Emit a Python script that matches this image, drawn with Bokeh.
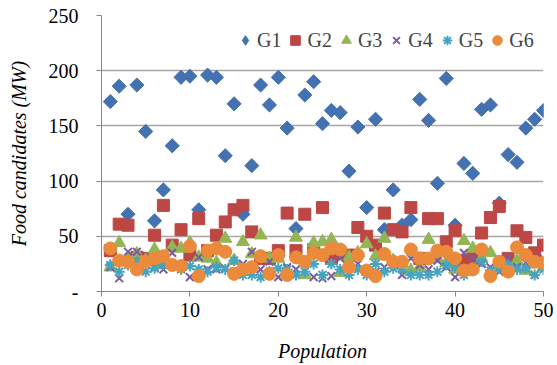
import math
from bokeh.plotting import figure
from bokeh.models import Legend, FixedTicker
from bokeh.embed import file_html
from bokeh.resources import INLINE

population = list(range(1, 51))
g1 = [172, 186, 70, 187, 145, 64, 92, 132, 194, 195, 74, 196, 194, 123, 170, 70, 114, 187, 169, 194,
      148, 57, 178, 190, 152, 164, 162, 109, 149, 76, 156, 56, 92, 60, 65, 174, 155, 98, 193, 60,
      116, 107, 165, 169, 80, 124, 117, 148, 156, 164]
g2 = [37, 61, 60, 31, 30, 51, 78, 42, 56, 33, 66, 37, 51, 63, 74, 78, 54, 30, 30, 37,
      71, 37, 70, 38, 76, 30, 35, 33, 58, 50, 42, 71, 56, 54, 76, 30, 66, 66, 45, 55,
      28, 30, 53, 67, 77, 30, 55, 49, 35, 42]
g3 = [22, 44, 30, 34, 28, 38, 25, 40, 39, 44, 31, 30, 26, 48, 28, 45, 34, 51, 30, 30,
      16, 49, 15, 44, 45, 47, 17, 31, 35, 43, 32, 48, 28, 25, 19, 22, 47, 30, 26, 20,
      46, 39, 30, 35, 25, 22, 28, 19, 25, 22]
g4 = [22, 12, 36, 36, 25, 22, 20, 35, 22, 13, 31, 20, 20, 21, 18, 25, 36, 20, 27, 13,
      22, 20, 25, 13, 12, 14, 30, 22, 25, 20, 18, 22, 26, 15, 30, 24, 20, 28, 22, 13,
      35, 30, 25, 22, 18, 30, 22, 26, 15, 30]
g5 = [24, 18, 24, 27, 18, 21, 24, 24, 20, 23, 20, 18, 22, 20, 28, 15, 15, 13, 18, 21,
      20, 15, 18, 25, 15, 25, 20, 15, 20, 15, 25, 18, 21, 20, 15, 15, 15, 18, 24, 22,
      15, 21, 27, 19, 21, 24, 20, 21, 15, 20]
g6 = [39, 28, 27, 20, 27, 30, 32, 24, 23, 41, 14, 37, 39, 36, 16, 20, 22, 32, 16, 33,
      15, 31, 27, 35, 33, 39, 38, 22, 33, 19, 14, 34, 27, 27, 38, 30, 30, 37, 36, 30,
      19, 20, 38, 14, 27, 18, 40, 33, 27, 26]

series_names = ["G1", "G2", "G3", "G4", "G5", "G6"]
x_ticks = [0, 10, 20, 30, 40, 50]
y_ticks = [0, 50, 100, 150, 200, 250]

FONT = "'Liberation Serif'"
GRID = "#A6A6A6"

p = figure(width=557, height=365, x_range=(0, 50), y_range=(0, 250),
           output_backend="svg", toolbar_location=None,
           min_border_left=101, min_border_right=14, min_border_top=15, min_border_bottom=74)
p.outline_line_color = None
p.background_fill_color = "white"

colors = ["#4472B0", "#BC4744", "#94B555", "#7A5C9E", "#45A5C0", "#EB8A3B"]
styles = [
    dict(marker="square", size=10, angle=math.pi / 4, fill_color=colors[0], line_color=colors[0]),
    dict(marker="square", size=12, fill_color=colors[1], line_color=colors[1]),
    dict(marker="triangle", size=13, fill_color=colors[2], line_color=colors[2]),
    dict(marker="x", size=11, fill_color=None, line_color=colors[3], line_width=2),
    dict(marker="asterisk", size=11, fill_color=None, line_color=colors[4], line_width=2),
    dict(marker="circle", size=13, fill_color=colors[5], line_color=colors[5]),
]
data = [g1, g2, g3, g4, g5, g6]

items = []
for i, (name, ys, st) in enumerate(zip(series_names, data, styles)):
    if i == 0:
        # upright diamond, hidden under the rotated squares, used as legend swatch
        lr = p.scatter(population, ys, marker="diamond", size=12,
                       fill_color=colors[0], line_color=colors[0])
        p.scatter(population, ys, **st)
        items.append((name, [lr]))
    else:
        r = p.scatter(population, ys, **st)
        items.append((name, [r]))

legend = Legend(items=items, orientation="horizontal", location=(132, 239))
legend.background_fill_alpha = 0
legend.border_line_color = None
legend.label_text_font = FONT
legend.label_text_font_size = "20px"
legend.glyph_width = 24
legend.glyph_height = 24
legend.label_standoff = 0
legend.spacing = 2
legend.padding = 0
legend.margin = 0
p.add_layout(legend, "center")

p.xaxis.ticker = FixedTicker(ticks=x_ticks)
p.yaxis.ticker = FixedTicker(ticks=y_ticks)
p.yaxis.major_label_overrides = {0: "-"}

for ax in (p.xaxis, p.yaxis):
    ax.axis_line_color = "#868686"
    ax.major_tick_line_color = "#868686"
    ax.major_tick_in = 0
    ax.major_tick_out = 5
    ax.minor_tick_line_color = None
    ax.major_label_text_font = FONT
    ax.major_label_text_font_size = "20px"
    ax.major_label_text_color = "black"
    ax.axis_label_text_font = FONT
    ax.axis_label_text_font_size = "20px"
    ax.axis_label_text_font_style = "italic"
    ax.axis_label_text_color = "black"

p.xaxis.axis_label = "Population"
p.yaxis.axis_label = "Food candidates (MW)"
p.yaxis.major_label_standoff = 18
p.xaxis.major_label_standoff = 6
p.xaxis.axis_label_standoff = 20
p.yaxis.axis_label_standoff = 16

p.xgrid.grid_line_color = None
p.ygrid.grid_line_color = GRID
p.ygrid.grid_line_width = 1.3

open("out.html", "w").write(file_html(p, INLINE))
